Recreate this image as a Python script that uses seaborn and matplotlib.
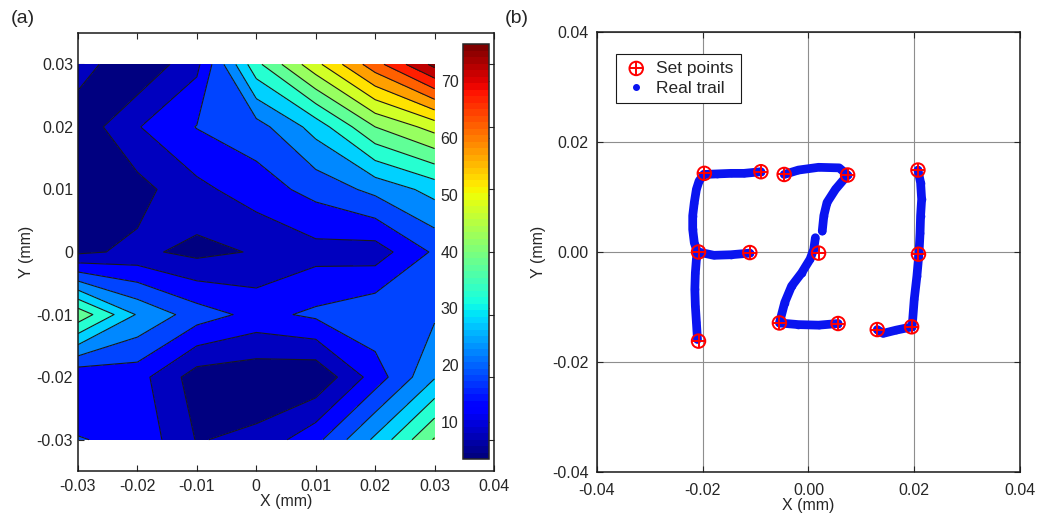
import numpy as np
import pandas as pd
import matplotlib
matplotlib.use("Agg")
import matplotlib.pyplot as plt
from matplotlib.colors import Normalize
from matplotlib.cm import ScalarMappable
import seaborn as sns

sns.set_theme(style="ticks")
plt.rcParams['font.family'] = ['Liberation Sans', 'DejaVu Sans']
plt.rcParams['xtick.direction'] = 'in'
plt.rcParams['ytick.direction'] = 'in'

#%% data

# (a) error map on a 7x7 grid (rows: y from -0.03 up to 0.03)
grid_x = [-0.03, -0.02, -0.01, 0.0, 0.01, 0.02, 0.03]
grid_y = [-0.03, -0.02, -0.01, 0.0, 0.01, 0.02, 0.03]
z_rows = [
    [15.3, 13.7, 4.7, 6.2, 13.5, 26.0, 40.5],
    [10.5, 12.0, 2.5, 1.5, 0.8, 12.3, 24.6],
    [38.5, 24.5, 17.5, 13.4, 16.0, 18.9, 19.3],
    [4.0, 6.1, 3.6, 5.4, 8.2, 7.5, 15.8],
    [2.0, 3.2, 8.65, 12.6, 16.7, 21.4, 26.8],
    [1.5, 9.7, 15.2, 17.9, 27.0, 40.0, 47.0],
    [7.5, 0.5, 8.7, 33.6, 48.5, 63.0, 76.5],
]
c_min, c_max = 3.4, 76.5
levels = [-1, 5, 10, 15, 20, 25, 30, 35, 40, 45, 50, 55, 60, 65, 70, 75, 80]
cbar_ticks = [10, 20, 30, 40, 50, 60, 70]

xa_ticks = [-0.03, -0.02, -0.01, 0, 0.01, 0.02, 0.03, 0.04]
xa_labels = ["-0.03", "-0.02", "-0.01", "0", "0.01", "0.02", "0.03", "0.04"]
ya_ticks = [-0.03, -0.02, -0.01, 0, 0.01, 0.02, 0.03]
ya_labels = ["-0.03", "-0.02", "-0.01", "0", "0.01", "0.02", "0.03"]

# (b) set points
set_x = [-0.0197, -0.0090, -0.0208, -0.0111, -0.0208,
         -0.0046, 0.0074, 0.0019, -0.0055, 0.0056,
         0.0207, 0.0208, 0.0195, 0.0130]
set_y = [0.0143, 0.0146, 0.0000, -0.0001, -0.0162,
         0.0141, 0.0140, -0.0002, -0.0129, -0.0130,
         0.0149, -0.0004, -0.0136, -0.0141]

# (b) real trail, one list per stroke
f_stem_x = [-0.0210, -0.0212, -0.0214, -0.0215, -0.0214, -0.0212, -0.0210, -0.0216,
            -0.0219, -0.0219, -0.0216, -0.0212, -0.0207, -0.0198]
f_stem_y = [-0.0159, -0.0128, -0.0098, -0.0068, -0.0038, -0.0013, 0.0000, 0.0017,
            0.0041, 0.0066, 0.0090, 0.0114, 0.0129, 0.0141]
f_top_x = [-0.0198, -0.0173, -0.0147, -0.0122, -0.0090]
f_top_y = [0.0141, 0.0142, 0.0143, 0.0143, 0.0146]
f_mid_x = [-0.0208, -0.0179, -0.0147, -0.0111]
f_mid_y = [0.0000, -0.0006, -0.0005, -0.0002]
z_top_x = [-0.0046, -0.0019, 0.0019, 0.0058, 0.0074, 0.0051, 0.0035, 0.0029, 0.0026]
z_top_y = [0.0141, 0.0149, 0.0154, 0.0153, 0.0140, 0.0114, 0.0090, 0.0066, 0.0038]
z_low_x = [0.0013, 0.0010, 0.0003, -0.0013, -0.0032, -0.0045, -0.0055,
           -0.0019, 0.0019, 0.0056]
z_low_y = [0.0026, 0.0005, -0.0013, -0.0038, -0.0062, -0.0092, -0.0129,
           -0.0132, -0.0133, -0.0130]
j_x = [0.0207, 0.0212, 0.0214, 0.0212, 0.0211, 0.0209, 0.0205, 0.0200, 0.0196,
       0.0166, 0.0141, 0.0130]
j_y = [0.0149, 0.0126, 0.0096, 0.0066, 0.0035, -0.0002, -0.0044, -0.0086, -0.0136,
       -0.0142, -0.0148, -0.0141]

xb_ticks = [-0.04, -0.02, 0, 0.02, 0.04]
xb_labels = ["-0.04", "-0.02", "0.00", "0.02", "0.04"]

#%% figure
fig = plt.figure(figsize=(10.37, 5.14), dpi=100)
ax1 = fig.add_axes([0.0752, 0.0837, 0.4012, 0.852])
ax2 = fig.add_axes([0.5757, 0.0817, 0.4079, 0.856])
cax = fig.add_axes([0.4468, 0.1064, 0.0245, 0.8074])

# (a) filled contour
X, Y = np.meshgrid(grid_x, grid_y)
Z = np.array(z_rows)
norm = Normalize(vmin=c_min, vmax=c_max)
ax1.contourf(X, Y, Z, levels=levels, cmap="jet", norm=norm)
ax1.contour(X, Y, Z, levels=levels[1:-1], colors="k", linewidths=0.8)
ax1.set_xlim(-0.03, 0.04)
ax1.set_ylim(-0.035, 0.035)
ax1.set_xticks(xa_ticks)
ax1.set_xticklabels(xa_labels)
ax1.set_yticks(ya_ticks)
ax1.set_yticklabels(ya_labels)
ax1.tick_params(top=True, right=True, labelsize=11.5, length=4, width=0.8)
ax1.tick_params(axis="x", pad=6)
ax1.set_xlabel("X (mm)", fontsize=11.5, labelpad=0)
ax1.set_ylabel("Y (mm)", fontsize=11.5, labelpad=2)
for s in ax1.spines.values():
    s.set_linewidth(1.1)
    s.set_color("k")

sm = ScalarMappable(norm=norm, cmap=plt.get_cmap("jet", 64))
cb = fig.colorbar(sm, cax=cax)
cb.set_ticks(cbar_ticks)
cax.yaxis.set_ticks_position("both")
cax.yaxis.set_label_position("left")
cax.tick_params(labelleft=True, labelright=False, labelsize=11.5, length=4, width=0.8,
                direction="in")
cb.outline.set_linewidth(1.1)

fig.text(0.010, 0.955, "(a)", fontsize=14)
fig.text(0.487, 0.955, "(b)", fontsize=14)

# (b) trail
strokes = [(f_stem_x, f_stem_y), (f_top_x, f_top_y), (f_mid_x, f_mid_y),
           (z_top_x, z_top_y), (z_low_x, z_low_y), (j_x, j_y)]
frames = []
for i, (sx, sy) in enumerate(strokes):
    frames.append(pd.DataFrame({"x": sx, "y": sy, "stroke": i}))
trail = pd.concat(frames, ignore_index=True)

ax2.grid(True, color="#8e8e8e", linewidth=0.8)
ax2.set_axisbelow(True)
sns.lineplot(data=trail, x="x", y="y", units="stroke", estimator=None, sort=False,
             color="#0a14f0", linewidth=6.3, ax=ax2, legend=False, zorder=3)
sns.scatterplot(data=trail, x="x", y="y", color="#0a14f0", s=30, linewidth=0,
                ax=ax2, legend=False, zorder=3)
h_o = ax2.scatter(set_x, set_y, s=95, facecolors="none", edgecolors="red",
                  linewidths=1.4, zorder=5)
h_p = ax2.scatter(set_x, set_y, s=95, marker="+", color="red", linewidths=1.4, zorder=5)
h_dot, = ax2.plot([], [], ls="none", marker=".", color="#0a14f0", ms=8)

ax2.set_xlim(-0.04, 0.04)
ax2.set_ylim(-0.04, 0.04)
ax2.set_xticks(xb_ticks)
ax2.set_xticklabels(xb_labels)
ax2.set_yticks(xb_ticks)
ax2.set_yticklabels(xb_labels)
ax2.tick_params(top=True, right=True, labelsize=11.5, length=4, width=0.8)
ax2.tick_params(axis="x", pad=8)
ax2.tick_params(axis="y", pad=6)
ax2.set_xlabel("X (mm)", fontsize=11.5, labelpad=0)
ax2.set_ylabel("Y (mm)", fontsize=11.5, labelpad=4)
for s in ax2.spines.values():
    s.set_linewidth(1.1)
    s.set_color("k")

leg = ax2.legend([(h_o, h_p), h_dot], ["Set points", "Real trail"],
                 loc="upper left", bbox_to_anchor=(0.025, 0.97), fontsize=12.5,
                 fancybox=False, framealpha=1, edgecolor="k",
                 handletextpad=0.4, borderpad=0.4, labelspacing=0.3, handlelength=1.5)
leg.get_frame().set_linewidth(0.8)

fig.savefig("out.png", dpi=100)
